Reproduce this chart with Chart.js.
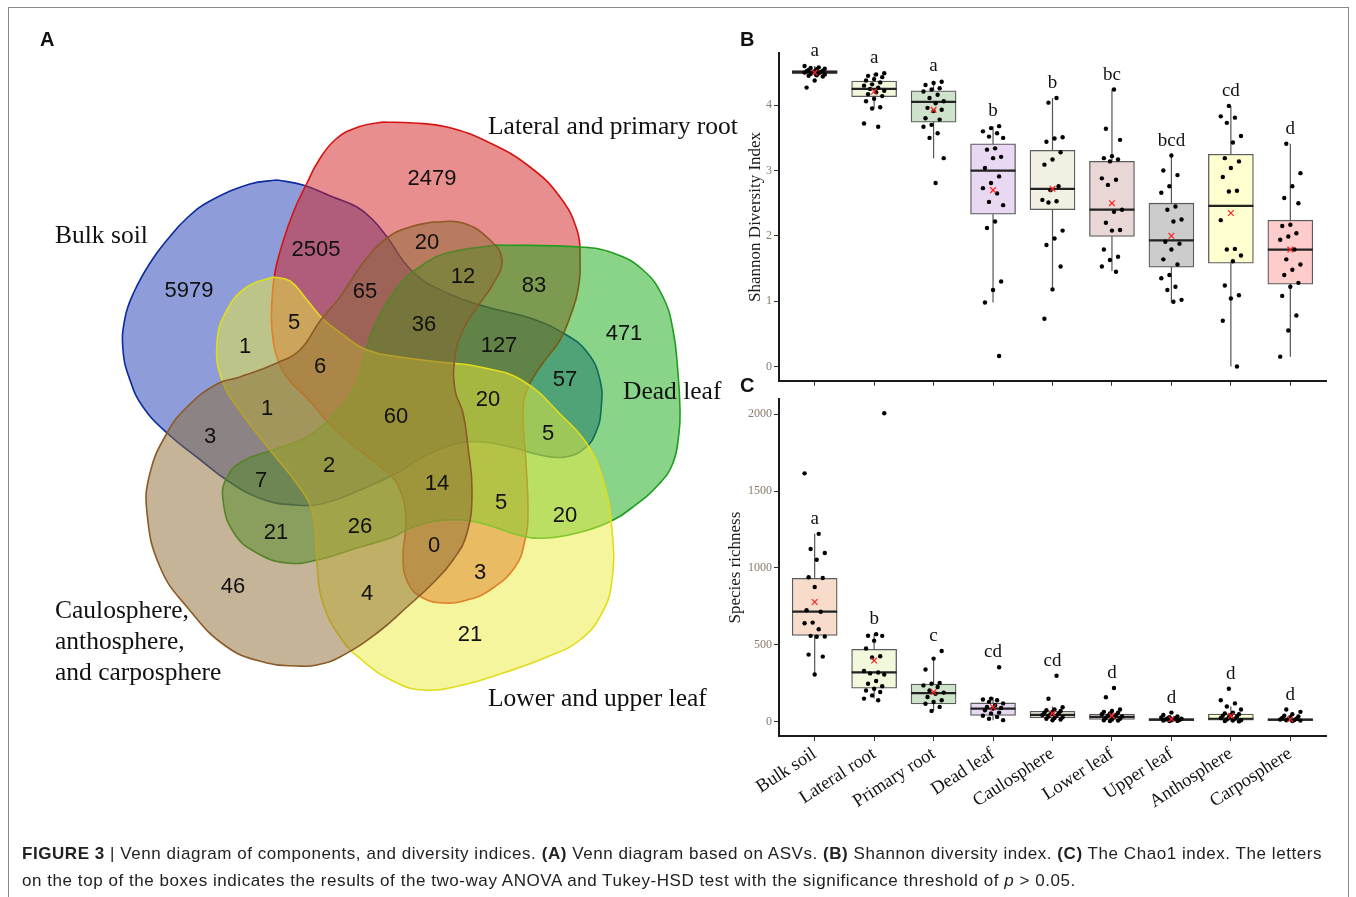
<!DOCTYPE html>
<html>
<head>
<meta charset="utf-8">
<script src="https://cdn.jsdelivr.net/npm/chart.js@4.4.0/dist/chart.umd.min.js"></script>
<style>
  body { margin: 0; background: #fff; }
  #wrap { position: relative; width: 1356px; height: 897px; overflow: hidden; background: #fff; }
  canvas { position: absolute; }
  .frame { position: absolute; left: 8px; top: 7px; width: 1339px; height: 900px;
    border: 1px solid #8a8a8a; border-bottom: none; pointer-events: none; }
  .tag { position: absolute; font: bold 20px 'Liberation Sans', Arial, sans-serif; color: #111; }
  .cap { position: absolute; left: 22px; white-space: nowrap; color: #222;
    font: 17px 'Liberation Sans Narrow', 'Liberation Sans', Arial, sans-serif; }
</style>
</head>
<body>
<div id="wrap">
  <canvas id="venn" width="750" height="770" style="left:0;top:0"></canvas>
  <canvas id="chartB" width="610" height="360" style="left:730px;top:30px"></canvas>
  <canvas id="chartC" width="640" height="420" style="left:700px;top:390px"></canvas>
  <div class="frame"></div>
  <div class="tag" style="left:40px;top:28px">A</div>
  <div class="tag" style="left:740px;top:28px">B</div>
  <div class="tag" style="left:740px;top:374px">C</div>
  <div class="cap" id="cap1" style="top:844px"><b>FIGURE 3</b> | Venn diagram of components, and diversity indices. <b>(A)</b> Venn diagram based on ASVs. <b>(B)</b> Shannon diversity index. <b>(C)</b> The Chao1 index. The letters</div>
  <div class="cap" id="cap2" style="top:871px">on the top of the boxes indicates the results of the two-way ANOVA and Tukey-HSD test with the significance threshold of <i>p</i> &gt; 0.05.</div>
</div>
<script>
// ---- data ----
const groups = ['Bulk soil', 'Lateral root', 'Primary root', 'Dead leaf', 'Caulosphere',
  'Lower leaf', 'Upper leaf', 'Anthosphere', 'Carposphere']

// Shannon diversity (panel B)
const shannonTicks = [0, 1, 2, 3, 4]
const shannonLow = [4.44, 3.95, 3.19, 0.98, 1.19, 1.46, 0.98, 0.00, 0.15]
const shannonQ1 = [4.48, 4.13, 3.74, 2.33, 2.40, 1.99, 1.52, 1.58, 1.26]
const shannonMed = [4.51, 4.25, 4.05, 3.00, 2.72, 2.40, 1.93, 2.46, 1.79]
const shannonQ3 = [4.53, 4.37, 4.22, 3.41, 3.31, 3.14, 2.50, 3.25, 2.24]
const shannonHigh = [4.60, 4.49, 4.37, 3.68, 4.11, 4.24, 3.23, 3.99, 3.41]
const shannonMean = [4.50, 4.21, 3.93, 2.70, 2.72, 2.50, 2.00, 2.35, 1.79]
const shannonLetters = ['a', 'a', 'a', 'b', 'b', 'bc', 'bcd', 'cd', 'd']
const shannonPoints = [
  [4.60, 4.58, 4.57, 4.56, 4.55, 4.54, 4.53, 4.52, 4.52, 4.51, 4.50, 4.50, 4.49, 4.48, 4.47, 4.46, 4.45, 4.44, 4.38, 4.27],
  [4.49, 4.47, 4.45, 4.43, 4.40, 4.38, 4.35, 4.32, 4.30, 4.27, 4.25, 4.22, 4.20, 4.17, 4.14, 4.10, 4.06, 3.97, 3.95, 3.72, 3.67],
  [4.36, 4.34, 4.31, 4.26, 4.24, 4.21, 4.16, 4.11, 4.06, 4.03, 3.96, 3.93, 3.91, 3.80, 3.78, 3.70, 3.67, 3.57, 3.50, 3.19, 2.81],
  [3.68, 3.65, 3.60, 3.57, 3.52, 3.50, 3.34, 3.32, 3.21, 3.19, 3.04, 2.91, 2.81, 2.73, 2.65, 2.52, 2.47, 2.22, 2.12, 1.30, 1.17, 0.98, 0.16],
  [4.11, 4.04, 3.51, 3.49, 3.44, 3.28, 3.17, 3.09, 2.76, 2.70, 2.55, 2.53, 2.51, 2.08, 1.96, 1.86, 1.53, 1.18, 0.73],
  [4.24, 3.64, 3.47, 3.22, 3.19, 3.17, 3.14, 2.88, 2.86, 2.78, 2.40, 2.37, 2.20, 2.09, 2.08, 1.79, 1.68, 1.63, 1.53, 1.45],
  [3.23, 3.00, 2.93, 2.76, 2.66, 2.45, 2.40, 2.25, 2.22, 1.91, 1.88, 1.79, 1.64, 1.56, 1.40, 1.35, 1.22, 1.17, 1.02, 0.99],
  [3.99, 3.83, 3.81, 3.73, 3.53, 3.43, 3.19, 3.14, 3.04, 2.90, 2.69, 2.68, 2.24, 1.80, 1.79, 1.70, 1.61, 1.24, 1.09, 1.04, 0.70, 0.00],
  [3.41, 2.96, 2.76, 2.58, 2.50, 2.17, 2.15, 2.04, 1.99, 1.94, 1.79, 1.64, 1.56, 1.48, 1.40, 1.28, 1.22, 1.08, 0.78, 0.55, 0.15]
]

// Species richness / Chao1 (panel C)
const richTicks = [0, 500, 1000, 1500, 2000]
const richLow = [308, 151, 70, 10, 5, 5, 3, 3, 3]
const richQ1 = [561, 219, 116, 41, 26, 15, 8, 11, 8]
const richMed = [716, 321, 187, 86, 45, 32, 15, 20, 14]
const richQ3 = [933, 471, 245, 123, 69, 50, 22, 50, 20]
const richHigh = [1222, 570, 411, 160, 100, 85, 35, 100, 35]
const richMean = [779, 398, 194, 95, 55, 40, 18, 40, 17]
const richLetters = ['a', 'b', 'c', 'cd', 'cd', 'd', 'd', 'd', 'd']
const richPoints = [
  [1615, 1222, 1123, 1097, 1054, 940, 935, 876, 725, 716, 645, 641, 602, 559, 555, 553, 437, 424, 308],
  [2006, 570, 560, 559, 527, 477, 426, 419, 330, 321, 315, 308, 265, 248, 231, 215, 204, 194, 172, 151, 140],
  [460, 411, 340, 252, 248, 237, 226, 204, 190, 183, 161, 140, 129, 118, 97, 71],
  [355, 151, 145, 140, 130, 120, 108, 97, 90, 86, 75, 60, 54, 40, 32, 20, 11],
  [300, 150, 95, 80, 75, 70, 65, 60, 55, 50, 45, 40, 35, 30, 25, 20, 15, 10],
  [220, 160, 80, 70, 65, 60, 55, 50, 45, 40, 35, 30, 25, 20, 15, 10, 8, 5],
  [60, 45, 35, 30, 28, 25, 22, 20, 18, 15, 12, 10, 8, 6, 5],
  [215, 140, 120, 100, 80, 60, 55, 50, 45, 40, 35, 30, 25, 20, 15, 10, 8, 5, 3],
  [80, 65, 50, 40, 35, 30, 25, 20, 18, 15, 12, 10, 8, 5]
]

// Venn counts (panel A), one per region
const vennSets = ['Bulk soil', 'Lateral and primary root', 'Dead leaf', 'Lower and upper leaf',
  'Caulosphere,|anthosphere,|and carposphere']
const vennCounts = [5979, 2505, 2479, 20, 65, 12, 83, 471, 5, 1, 36, 127, 6, 57, 1, 60,
  20, 5, 3, 2, 7, 14, 5, 20, 21, 26, 0, 3, 46, 4, 21]

// ---- layout / style ----
const boxColors = ['#f7dccb', '#f1f8dc', '#cfe2cc', '#e9d8f1', '#f1f0e2', '#e9d7d6', '#cccccc', '#ffffd0', '#ffcccc']
const serif = "'Liberation Serif', 'Times New Roman', serif"
const sans = "'Liberation Sans', Arial, sans-serif"

// where each count sits in the venn frame (same order as vennCounts)
const vennCountAt = [[189, 291], [316, 250], [432, 179], [427, 243], [365, 292], [463, 277], [534, 286],
  [624, 334], [294, 323], [245, 347], [424, 325], [499, 346], [320, 367], [565, 380], [267, 409],
  [396, 417], [488, 400], [548, 434], [210, 437], [329, 466], [261, 481], [437, 484], [501, 503],
  [565, 516], [276, 533], [360, 527], [434, 546], [480, 573], [233, 587], [367, 594], [470, 635]]
const vennSetAt = [[55, 236], [488, 127], [623, 392], [488, 699], [55, 611]]

// blob outlines in the venn frame
const blobs = [
  { stroke: '#0c2c9e', fill: 'rgba(30,60,180,0.5)', order: 5, outline: [
    [277, 180], [303, 185], [333, 197], [357, 207], [373, 220], [387, 237], [413, 272], [447, 293],
    [487, 307], [530, 318], [563, 333], [587, 352], [600, 380], [601, 410], [596, 432], [585, 448],
    [565, 457], [540, 455], [515, 448], [482, 442], [455, 444], [423, 457], [397, 473], [360, 490],
    [325, 503], [295, 505], [262, 499], [228, 481], [198, 458], [167, 433], [143, 407], [130, 380],
    [123, 350], [125, 318], [134, 292], [150, 263], [167, 240], [187, 218], [210, 201], [250, 184]] },
  { stroke: '#d41414', fill: 'rgba(210,30,30,0.5)', order: 4, outline: [
    [383, 122], [413, 123], [447, 127], [490, 143], [530, 167], [560, 197], [577, 230], [580, 257],
    [578, 290], [570, 317], [560, 340], [540, 367], [527, 390], [523, 413], [526, 463], [528, 513],
    [525, 540], [515, 567], [490, 590], [467, 600], [445, 603], [423, 598], [408, 583], [403, 557],
    [406, 520], [400, 490], [388, 473], [350, 443], [327, 421], [307, 398], [289, 380], [278, 360],
    [272, 330], [272, 300], [275, 272], [282, 245], [293, 213], [307, 183], [319, 160], [336, 139], [358, 127]] },
  { stroke: '#1f9e1f', fill: 'rgba(20,170,20,0.5)', order: 3, outline: [
    [497, 245], [580, 247], [613, 253], [643, 270], [663, 297], [673, 330], [678, 373], [680, 410],
    [679, 433], [673, 463], [659, 484], [633, 507], [607, 523], [577, 533], [547, 538], [522, 536],
    [480, 523], [447, 520], [413, 527], [393, 537], [360, 547], [317, 560], [287, 563], [257, 553],
    [234, 533], [223, 500], [227, 477], [243, 461], [273, 450], [307, 437], [327, 421], [345, 402],
    [357, 382], [364, 357], [372, 332], [385, 306], [401, 283], [421, 266], [447, 253]] },
  { stroke: '#e2dc1c', fill: 'rgba(235,235,60,0.5)', order: 2, outline: [
    [273, 277], [290, 281], [307, 300], [322, 318], [342, 334], [367, 350], [400, 357], [440, 362],
    [480, 367], [523, 381], [563, 417], [587, 444], [603, 480], [612, 530], [612, 580], [602, 613],
    [580, 640], [547, 657], [503, 673], [463, 685], [423, 690], [393, 681], [363, 661], [340, 637],
    [322, 600], [317, 563], [313, 515], [300, 488], [270, 450], [240, 411], [222, 380], [217, 343],
    [227, 310], [247, 287]] },
  { stroke: '#8b5a26', fill: 'rgba(140,105,50,0.5)', order: 1, outline: [
    [433, 222], [463, 223], [490, 240], [502, 260], [493, 284], [477, 307], [463, 330], [455, 357],
    [455, 390], [463, 413], [468, 447], [472, 490], [467, 533], [453, 560], [433, 583], [407, 607],
    [377, 633], [340, 657], [317, 665], [297, 666], [267, 663], [227, 647], [187, 607], [160, 567],
    [147, 513], [150, 473], [167, 433], [187, 407], [217, 384], [240, 377], [277, 363], [300, 350],
    [320, 321], [340, 297], [363, 263], [387, 238], [410, 227]] }
]

// ---- panel A: venn ----
const vennText = {
  id: 'vennText',
  afterDatasetsDraw(chart) {
    const { ctx, scales: { x, y } } = chart
    ctx.save()
    ctx.fillStyle = '#111'
    ctx.textAlign = 'center'
    ctx.textBaseline = 'middle'
    ctx.font = '22px ' + sans
    vennCounts.forEach((c, i) => {
      ctx.fillText(String(c), x.getPixelForValue(vennCountAt[i][0]), y.getPixelForValue(vennCountAt[i][1]))
    })
    ctx.textAlign = 'left'
    ctx.font = '25.5px ' + serif
    vennSets.forEach((s, i) => {
      s.split('|').forEach((line, k) => {
        ctx.fillText(line, x.getPixelForValue(vennSetAt[i][0]), y.getPixelForValue(vennSetAt[i][1] + k * 31))
      })
    })
    ctx.restore()
  }
}

new Chart(document.getElementById('venn'), {
  type: 'scatter',
  data: {
    datasets: blobs.map(b => ({
      data: b.outline.concat([b.outline[0]]).map(p => ({ x: p[0], y: p[1] })),
      showLine: true,
      fill: 'shape',
      tension: 0.45,
      backgroundColor: b.fill,
      borderColor: b.stroke,
      borderWidth: 1.6,
      pointRadius: 0,
      order: b.order
    }))
  },
  options: {
    responsive: false,
    animation: false,
    events: [],
    layout: { padding: 0, autoPadding: false },
    plugins: { legend: { display: false }, tooltip: { enabled: false } },
    scales: {
      x: { type: 'linear', min: 0, max: 750, display: false },
      y: { type: 'linear', min: 0, max: 770, reverse: true, display: false }
    }
  },
  plugins: [vennText]
})

// ---- panels B and C: boxplots ----
function jitter(k) {
  return (((k * 7) % 11) / 10 - 0.5) * 0.34
}

function letterPlugin(letters, high, points) {
  return {
    id: 'letters',
    afterDatasetsDraw(chart) {
      const { ctx, scales: { x, y } } = chart
      ctx.save()
      ctx.fillStyle = '#111'
      ctx.font = '19px ' + serif
      ctx.textAlign = 'center'
      ctx.textBaseline = 'middle'
      letters.forEach((l, i) => {
        let top = y.getPixelForValue(high[i])
        points[i].forEach(v => {
          const p = y.getPixelForValue(v)
          if (p < top && p > top - 50) top = p
        })
        ctx.fillText(l, x.getPixelForValue(i), top - 15)
      })
      ctx.restore()
    }
  }
}

function boxChart(id, s) {
  const whiskers = []
  groups.forEach((g, i) => {
    whiskers.push({ x: i, y: s.low[i] }, { x: i, y: s.high[i] }, { x: i, y: null })
  })
  const pts = []
  s.points.forEach((list, i) => {
    list.forEach((v, k) => pts.push({ x: i + jitter(k + i * 3), y: v }))
  })
  return new Chart(document.getElementById(id), {
    type: 'scatter',
    data: {
      datasets: [
        {
          data: whiskers, showLine: true, spanGaps: false, borderColor: '#555', borderWidth: 1.2,
          pointRadius: 0, order: 5
        },
        {
          type: 'bar',
          data: groups.map((g, i) => ({ x: i, y: [s.q1[i], s.q3[i]] })),
          backgroundColor: boxColors, borderColor: '#5c5c5c', borderWidth: 1.3,
          borderSkipped: false, barThickness: 45, grouped: false, order: 4
        },
        {
          data: groups.map((g, i) => ({ x: i, y: s.med[i] })),
          pointStyle: 'line', pointRadius: 22.5, pointBorderColor: '#222', pointBorderWidth: 2.2, order: 3
        },
        {
          data: pts, pointRadius: 2.2, pointBackgroundColor: '#000', pointBorderWidth: 0, order: 2
        },
        {
          data: groups.map((g, i) => ({ x: i, y: s.mean[i] })),
          pointStyle: 'crossRot', pointRadius: 4, pointBorderColor: '#f22', pointBorderWidth: 1.2, order: 1
        }
      ]
    },
    options: {
      responsive: false,
      animation: false,
      events: [],
      layout: { padding: { top: s.padTop, right: 14, left: 0, bottom: 0 }, autoPadding: false },
      plugins: { legend: { display: false }, tooltip: { enabled: false } },
      scales: {
        x: {
          type: 'linear', min: -0.6, max: 8.6, offset: false,
          grid: { offset: false, drawOnChartArea: false, drawTicks: true, tickLength: 5, color: '#333' },
          border: { display: true, color: '#1a1a1a', width: 2 },
          ticks: {
            autoSkip: false, display: s.showX,
            minRotation: 33, maxRotation: 33, padding: 2,
            color: '#111', font: { family: serif, size: 18.5 },
            callback: v => groups[v]
          },
          afterBuildTicks: sc => { sc.ticks = groups.map((g, i) => ({ value: i })) },
          afterFit: sc => { sc.height = s.xHeight }
        },
        y: {
          type: 'linear', min: s.yMin, max: s.yMax,
          grid: { drawOnChartArea: false, drawTicks: true, tickLength: 5, color: '#333' },
          border: { display: true, color: '#1a1a1a', width: 2 },
          ticks: { color: '#8a7a6a', font: { family: serif, size: 12 }, padding: 2, callback: v => String(v) },
          afterBuildTicks: sc => { sc.ticks = s.ticks.map(v => ({ value: v })) },
          title: {
            display: true, text: s.title, color: '#1a1a1a',
            font: { family: serif, size: 17 }, padding: { top: s.titlePad, bottom: 0 }
          },
          afterFit: sc => { sc.width = s.yWidth }
        }
      }
    },
    plugins: [letterPlugin(s.letters, s.high, s.points)]
  })
}

boxChart('chartB', {
  low: shannonLow, q1: shannonQ1, med: shannonMed, q3: shannonQ3, high: shannonHigh,
  mean: shannonMean, points: shannonPoints, letters: shannonLetters, ticks: shannonTicks,
  yMin: -0.22, yMax: 4.8, showX: false, xHeight: 9, yWidth: 49, padTop: 23,
  title: 'Shannon Diversity Index', titlePad: 15
})

boxChart('chartC', {
  low: richLow, q1: richQ1, med: richMed, q3: richQ3, high: richHigh,
  mean: richMean, points: richPoints, letters: richLetters, ticks: richTicks,
  yMin: -92, yMax: 2097, showX: true, xHeight: 74, yWidth: 79, padTop: 7,
  title: 'Species richness', titlePad: 25
})

// stretch caption lines to the width of the original
const cap1 = document.getElementById('cap1')
const cap2 = document.getElementById('cap2')
const w1 = cap1.getBoundingClientRect().width
const ls = (1300 - w1) / cap1.textContent.length
cap1.style.letterSpacing = ls + 'px'
cap2.style.letterSpacing = ls + 'px'
</script>
</body>
</html>
